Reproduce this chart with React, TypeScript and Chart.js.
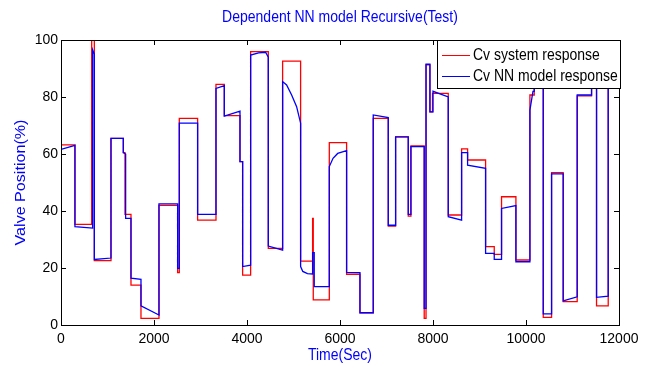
import React, { useEffect, useRef } from "react";
import { Chart, registerables } from "chart.js";

Chart.register(...registerables);

const CHART_TITLE = "Dependent NN model Recursive(Test)";
const X_TITLE = "Time(Sec)";
const Y_TITLE = "Valve Position(%)";
const SERIES_NAMES = ["Cv system response", "Cv NN model response"];

const X_TICKS = [0, 2000, 4000, 6000, 8000, 10000, 12000];
const Y_TICKS = [0, 20, 40, 60, 80, 100];

// Red: step signal, value holds from time[i] until time[i+1]
const systemTimes = [
  0, 300, 660, 717, 1075, 1340, 1376, 1505, 1720, 2107, 2508, 2544, 2938, 3333,
  3512, 3849, 3906, 4078, 4458, 4766, 5153, 5411, 5425, 5770, 6142, 6429, 6715,
  7038, 7196, 7468, 7525, 7811, 7850, 7934, 7990, 8328, 8615, 8744, 9131, 9317,
  9474, 9783, 10084, 10177, 10371, 10550, 10800, 11101, 11410, 11517, 11768, 12000,
];
const systemValues = [
  63.2, 35.3, 100, 22.6, 65.5, 60.5, 38.8, 14, 2.3, 42, 18.4, 72.5, 36.8, 84.4,
  73.5, 57.3, 17.5, 95.9, 26.9, 92.6, 22.4, 37.4, 8.8, 64, 17.8, 4.3, 72.5,
  34.7, 66, 38.2, 62.8, 2.3, 91.3, 74.8, 81.3, 38.6, 61.8, 57.9, 27.5, 24.8,
  45, 22.8, 80.7, 90, 2.7, 53.5, 8.2, 80.4, 90, 6.7, 90, 90,
];

// Blue: model response, piecewise-linear samples
const modelTimes = [
  0, 300, 300, 680, 680, 717, 717, 1075, 1075, 1340, 1340, 1390, 1390, 1505, 1505,
  1720, 1720, 2107, 2107, 2508, 2508, 2544, 2544, 2938, 2938, 3333, 3333, 3512,
  3512, 3849, 3849, 3906, 3906, 4078, 4078, 4250, 4400, 4458, 4458, 4766, 4766,
  4852, 4960, 5067, 5153, 5153, 5200, 5300, 5411, 5411, 5446, 5446, 5770, 5770,
  5850, 5950, 6142, 6142, 6429, 6429, 6715, 6715, 7038, 7038, 7196, 7196, 7468,
  7468, 7525, 7525, 7811, 7811, 7850, 7850, 7934, 7934, 8000, 8000, 8328, 8328,
  8615, 8615, 8744, 8744, 9131, 9131, 9317, 9317, 9474, 9474, 9783, 9783, 10084,
  10084, 10150, 10177, 10177, 10371, 10371, 10550, 10550, 10800, 10800, 11101,
  11101, 11410, 11410, 11517, 11517, 11768, 11768, 12000,
];
const modelValues = [
  61.6, 63, 34.5, 34, 96.5, 95, 23, 23.5, 65.5, 65.5, 60.5, 60, 37.4, 37.4, 16.4,
  16, 6.7, 3.5, 42.5, 42.5, 19.9, 19.9, 70.8, 70.8, 38.8, 38.8, 83, 84,
  73.3, 75, 57.3, 57.3, 20.5, 21, 94.7, 95.5, 95.7, 94, 27.7, 26.3, 85.4,
  84.2, 80.7, 76.6, 70.8, 20.5, 18.8, 18.0, 17.9, 25.4, 25.4, 13.5, 13.5, 55.6,
  58.5, 60.2, 61.2, 18.5, 18.4, 4.3, 4.3, 73.7, 72.8, 35, 35, 66, 66,
  38.8, 38.8, 62.6, 62.6, 5.8, 5.8, 91.5, 91.5, 74.8, 74.8, 82, 80, 38,
  36.8, 60.5, 60.5, 56.1, 55, 25.1, 25.1, 23, 23, 40.9, 41.9, 22.2, 22.2,
  75.4, 82, 82, 90, 90, 3.9, 3.9, 53, 53, 8.5, 9.9,
  80.7, 80.7, 90, 90, 9.7, 10.1, 90, 90,
];

const RED = "#ff0000";
const BLUE = "#0000ff";
const FONT = "'Liberation Sans', Arial, sans-serif";
const STRETCH = 1.15;

function tallText(ctx: CanvasRenderingContext2D, text: string, x: number, y: number) {
  ctx.save();
  ctx.translate(x, y);
  ctx.scale(1, STRETCH);
  ctx.fillText(text, 0, 0);
  ctx.restore();
}

const matlabPlugin = {
  id: "matlabDecor",
  afterDraw(chart: any) {
    const ctx = chart.ctx as CanvasRenderingContext2D;
    const { left, right, top, bottom } = chart.chartArea;
    const xs = chart.scales.x;
    const ys = chart.scales.y;
    ctx.save();
    // frame
    ctx.strokeStyle = "#000";
    ctx.lineWidth = 1;
    ctx.strokeRect(Math.round(left) + 0.5, Math.round(top) + 0.5, Math.round(right - left), Math.round(bottom - top));
    // inward ticks
    const tl = 5;
    ctx.beginPath();
    X_TICKS.forEach((v) => {
      const px = Math.round(xs.getPixelForValue(v)) + 0.5;
      ctx.moveTo(px, bottom);
      ctx.lineTo(px, bottom - tl);
      ctx.moveTo(px, top);
      ctx.lineTo(px, top + tl);
    });
    Y_TICKS.forEach((v) => {
      const py = Math.round(ys.getPixelForValue(v)) + 0.5;
      ctx.moveTo(left, py);
      ctx.lineTo(left + tl, py);
      ctx.moveTo(right, py);
      ctx.lineTo(right - tl, py);
    });
    ctx.stroke();

    // legend box
    const lx = 437, ly = 40, lw = 183, lh = 48;
    ctx.fillStyle = "#fff";
    ctx.fillRect(lx, ly, lw, lh);
    ctx.strokeStyle = "#000";
    ctx.strokeRect(lx + 0.5, ly + 0.5, lw, lh);
    const colors = [RED, BLUE];
    const rows = [55.5, 76.5];
    ctx.font = `14px ${FONT}`;
    ctx.textBaseline = "middle";
    ctx.textAlign = "left";
    chart.data.datasets.forEach((ds: any, i: number) => {
      ctx.strokeStyle = colors[i];
      ctx.lineWidth = 1;
      ctx.beginPath();
      ctx.moveTo(442, rows[i]);
      ctx.lineTo(470, rows[i]);
      ctx.stroke();
      ctx.fillStyle = "#000";
      tallText(ctx, ds.label, 473, rows[i]);
    });

    // titles
    ctx.fillStyle = BLUE;
    ctx.textAlign = "center";
    ctx.font = `14px ${FONT}`;
    tallText(ctx, CHART_TITLE, (left + right) / 2, 18);
    tallText(ctx, X_TITLE, (left + right) / 2, 356);
    ctx.save();
    ctx.translate(21, (top + bottom) / 2);
    ctx.rotate(-Math.PI / 2);
    ctx.scale(STRETCH, 1);
    ctx.font = `14px ${FONT}`;
    ctx.fillText(Y_TITLE, 0, 0);
    ctx.restore();
    ctx.restore();
  },
};

export default function App() {
  const ref = useRef<HTMLCanvasElement | null>(null);
  useEffect(() => {
    if (!ref.current) return;
    const chart = new Chart(ref.current, {
      type: "line",
      data: {
        datasets: [
          {
            label: SERIES_NAMES[0],
            data: systemTimes.map((t, i) => ({ x: t, y: systemValues[i] })),
            borderColor: RED,
            borderWidth: 1.3,
            pointRadius: 0,
            stepped: "before",
            fill: false,
            order: 1,
          },
          {
            label: SERIES_NAMES[1],
            data: modelTimes.map((t, i) => ({ x: t, y: modelValues[i] })),
            borderColor: BLUE,
            borderWidth: 1.3,
            pointRadius: 0,
            tension: 0,
            fill: false,
            order: 0,
          },
        ],
      },
      options: {
        responsive: false,
        animation: false,
        events: [],
        layout: { padding: { left: 0, right: 35, top: 40, bottom: 0 } },
        plugins: {
          legend: { display: false },
          title: { display: false },
          tooltip: { enabled: false },
        },
        scales: {
          x: {
            type: "linear",
            min: 0,
            max: 12000,
            grid: { display: false, drawTicks: false },
            border: { display: false },
            ticks: {
              stepSize: 2000,
              color: "#000",
              padding: 6,
              maxRotation: 0,
              font: { family: FONT, size: 14 },
              callback: (v: any) => String(v),
            },
            afterFit: (s: any) => {
              s.height = 42;
            },
          },
          y: {
            type: "linear",
            min: 0,
            max: 100,
            grid: { display: false, drawTicks: false },
            border: { display: false },
            ticks: {
              stepSize: 20,
              color: "#000",
              padding: 3,
              font: { family: FONT, size: 14 },
            },
            afterFit: (s: any) => {
              s.width = 61;
            },
          },
        },
      },
      plugins: [matlabPlugin],
    });
    return () => chart.destroy();
  }, []);
  return (
    <div style={{ position: "absolute", left: 0, top: 0, width: 654, height: 367, background: "#fff" }}>
      <canvas ref={ref} width={654} height={367} style={{ width: 654, height: 367, display: "block" }} />
    </div>
  );
}
